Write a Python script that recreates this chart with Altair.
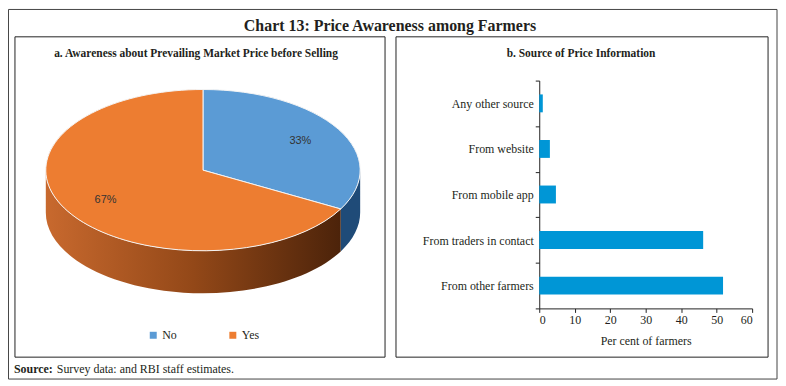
import altair as alt
import pandas as pd

# ---------------- data ----------------
answers = ["No", "Yes"]
answer_shares = [33, 67]

sources = ["Any other source", "From website", "From mobile app",
           "From traders in contact", "From other farmers"]
source_pct = [1.0, 3.0, 4.7, 46.2, 51.8]
x_ticks = [0, 10, 20, 30, 40, 50, 60]

main_title = "Chart 13: Price Awareness among Farmers"
title_a = "a. Awareness about Prevailing Market Price before Selling"
title_b = "b. Source of Price Information"
x_title = "Per cent of farmers"
source_bold = "Source:"
source_rest = "Survey data: and RBI staff estimates."

pie_df = pd.DataFrame({"answer": answers, "share": answer_shares})
bar_df = pd.DataFrame({"source": sources, "pct": source_pct})
one = pd.DataFrame({"k": [0]})

# ---------------- style / layout ----------------
SERIF = "Liberation Serif"
INK = "#231F20"
LW, LH = 372, 229
RW, RH = 214, 229
SPACING = 155
CX, CY = 189, 90          # pie centre inside the left panel
RX = 158                  # horizontal radius (px)
K = 0.513                 # vertical / horizontal radius ratio
H = 0.27                  # side thickness relative to RX
F = 0.72                  # label radius fraction


def P(a, dy=0.0):
    return (f"(round(10000*sin({a}))/10000) + ',' + "
            f"(round(10000*({dy} - {K}*cos({a})))/10000)")


top_path = ("'M0,0 L' + " + P("datum.a0") +
            f" + ' A1,{K} 0 ' + (datum.a1 - datum.a0 > PI ? '1' : '0') + ' 1 ' + "
            + P("datum.a1") + " + ' Z'")
side_path = ("datum.b1 > datum.b0 ? ('M' + " + P("datum.b0") +
             f" + ' A1,{K} 0 0 1 ' + " + P("datum.b1") +
             " + ' L' + " + P("datum.b1", H) +
             f" + ' A1,{K} 0 0 0 ' + " + P("datum.b0", H) +
             " + ' Z') : 'M0,0'")

pie_base = (
    alt.Chart(pie_df)
    .transform_window(cum="sum(share)", sort=[alt.SortField("answer")], frame=[None, 0])
    .transform_joinaggregate(total="sum(share)")
    .transform_calculate(
        a0="2*PI*(datum.cum - datum.share)/datum.total",
        a1="2*PI*datum.cum/datum.total",
    )
    .transform_calculate(
        b0="max(datum.a0, PI/2)",
        b1="min(datum.a1, 3*PI/2)",
        mid="(datum.a0 + datum.a1)/2",
        label="datum.share + '%'",
    )
    .transform_calculate(
        top_path=top_path,
        side_path=side_path,
        lx=f"{CX} + {RX}*{F}*sin(datum.mid)",
        ly=f"{CY} - {RX}*{K}*{F}*cos(datum.mid)",
    )
)

SIZE = (2 * RX) ** 2

yes_grad = alt.LinearGradient(
    gradient="linear",
    stops=[alt.GradientStop(color="#C8692E", offset=0),
           alt.GradientStop(color="#934818", offset=0.5),
           alt.GradientStop(color="#4C230A", offset=1)],
    x1=0, x2=1, y1=0, y2=0,
)

side_no = pie_base.transform_filter(alt.datum.answer == answers[0]).mark_point(
    filled=True, opacity=1, fill="#1F4B78", strokeWidth=0
).encode(
    x=alt.value(CX), y=alt.value(CY),
    shape=alt.Shape("side_path:N", scale=None, legend=None),
    size=alt.value(SIZE),
)
side_yes = pie_base.transform_filter(alt.datum.answer == answers[1]).mark_point(
    filled=True, opacity=1, fill=yes_grad, strokeWidth=0
).encode(
    x=alt.value(CX), y=alt.value(CY),
    shape=alt.Shape("side_path:N", scale=None, legend=None),
    size=alt.value(SIZE),
)

top = pie_base.mark_point(filled=True, opacity=1, stroke="#F4F4F4", strokeWidth=1).encode(
    x=alt.value(CX), y=alt.value(CY),
    shape=alt.Shape("top_path:N", scale=None, legend=None),
    size=alt.value(SIZE),
    color=alt.Color(
        "answer:N",
        scale=alt.Scale(domain=answers, range=["#5B9BD5", "#ED7D31"]),
        legend=alt.Legend(
            orient="none", legendX=133, legendY=250, direction="horizontal",
            title=None, symbolType="square", symbolSize=49, symbolStrokeWidth=0,
            labelFont=SERIF, labelFontSize=12, labelColor=INK,
            columnPadding=50, padding=0, labelOffset=3,
        ),
    ),
)

labels = pie_base.mark_text(font="Liberation Sans", fontSize=11, color="#333333").encode(
    x=alt.X("lx:Q", scale=None, axis=None),
    y=alt.Y("ly:Q", scale=None, axis=None),
    text="label:N",
)

frame_left = alt.Chart(one).mark_rect(fillOpacity=0, stroke="#222222", strokeWidth=1).encode(
    x=alt.value(0), x2=alt.value(LW), y=alt.value(-44), y2=alt.value(278)
)
frame_outer = alt.Chart(one).mark_rect(fillOpacity=0, stroke="#444444", strokeWidth=1).encode(
    x=alt.value(-6.5), x2=alt.value(766), y=alt.value(-71.5), y2=alt.value(300)
)
t_main = alt.Chart(one).mark_text(font=SERIF, fontSize=16, fontWeight="bold", color=INK).encode(
    x=alt.value(377), y=alt.value(-55), text=alt.value(main_title)
)
t_a = alt.Chart(one).mark_text(font=SERIF, fontSize=11.5, fontWeight="bold", color=INK).encode(
    x=alt.value(182), y=alt.value(-27), text=alt.value(title_a)
)
t_src1 = alt.Chart(one).mark_text(font=SERIF, fontSize=12, fontWeight="bold", color=INK, align="left").encode(
    x=alt.value(-1), y=alt.value(290), text=alt.value(source_bold)
)
t_src2 = alt.Chart(one).mark_text(font=SERIF, fontSize=12, color=INK, align="left").encode(
    x=alt.value(42), y=alt.value(290), text=alt.value(source_rest)
)

left = alt.layer(
    frame_outer, frame_left, t_main, t_a, t_src1, t_src2,
    side_no, side_yes, top, labels
).properties(width=LW, height=LH)

# ---------------- bar panel ----------------
bars = alt.Chart(bar_df).mark_bar(size=18, color="#0096D6").encode(
    y=alt.Y(
        "source:N", sort=sources,
        scale=alt.Scale(paddingInner=0, paddingOuter=0),
        axis=alt.Axis(
            title=None, tickBand="extent", tickSize=4, labelPadding=2,
            labelFont=SERIF, labelFontSize=12, labelColor=INK,
            domainColor="#222222", tickColor="#222222", labelLimit=300,
        ),
    ),
    x=alt.X(
        "pct:Q", scale=alt.Scale(domain=[0, 60], nice=False),
        axis=alt.Axis(
            values=x_ticks, title=x_title, grid=False, tickSize=4, labelPadding=2,
            labelFont=SERIF, labelFontSize=12, labelColor=INK,
            titleFont=SERIF, titleFontSize=12, titleFontWeight="normal", titleColor=INK,
            titlePadding=10, domainColor="#222222", tickColor="#222222",
        ),
    ),
)
frame_right = alt.Chart(one).mark_rect(fillOpacity=0, stroke="#222222", strokeWidth=1).encode(
    x=alt.value(-144), x2=alt.value(230), y=alt.value(-44), y2=alt.value(278)
)
t_b = alt.Chart(one).mark_text(font=SERIF, fontSize=11.5, fontWeight="bold", color=INK).encode(
    x=alt.value(42), y=alt.value(-27), text=alt.value(title_b)
)
right = alt.layer(frame_right, t_b, bars).properties(width=RW, height=RH)

chart = (
    alt.hconcat(left, right, spacing=SPACING, bounds="flush")
    .properties(padding=0, background="white")
    .configure_view(stroke=None)
)

chart.save("out.html", embed_options={"renderer": "svg", "actions": False})
